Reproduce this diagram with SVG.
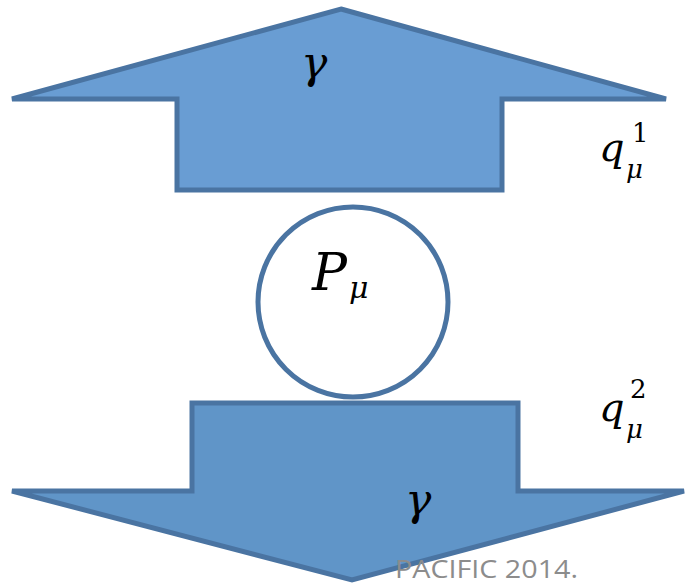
<svg xmlns="http://www.w3.org/2000/svg" width="687" height="585" viewBox="0 0 687 585">
<style>
.arrow{stroke:#4a74a2;stroke-width:5;stroke-linejoin:miter}
.m{font-family:"DejaVu Serif","Liberation Serif",serif;font-style:italic;fill:#000}
.n{font-family:"DejaVu Serif","Liberation Serif",serif;fill:#000}
</style>
<rect width="687" height="585" fill="#fff"/>
<g id="photon-out">
<polygon class="arrow" fill="#699dd3" points="341,9 666,99 502,99 502,190 177,190 177,99 12,99"/>
<text class="m" x="301" y="78" font-size="44">γ</text>
</g>
<g id="proton">
<circle cx="353" cy="302" r="95" fill="#fff" stroke="#4a74a2" stroke-width="5"/>
<text class="m" x="312" y="290" font-size="52">P</text>
<text class="m" x="349" y="298" font-size="30">μ</text>
</g>
<g id="photon-in">
<polygon class="arrow" fill="#6095c8" points="192,403 518,403 518,491 684,491 352,580 12,491 192,491"/>
<text class="m" x="405" y="515" font-size="44">γ</text>
</g>
<g id="labels">
<text class="m" x="599" y="161" font-size="40">q</text>
<text class="n" x="632" y="142" font-size="26">1</text>
<text class="m" x="626" y="178" font-size="26">μ</text>
<text class="m" x="599" y="421" font-size="40">q</text>
<text class="n" x="630" y="398" font-size="26">2</text>
<text class="m" x="626" y="438" font-size="26">μ</text>
</g>
<text x="395" y="578" font-family="Open Sans, Liberation Sans, sans-serif" font-size="26" textLength="183" lengthAdjust="spacingAndGlyphs" fill="#8c8c8c">PACIFIC 2014.</text>
</svg>
